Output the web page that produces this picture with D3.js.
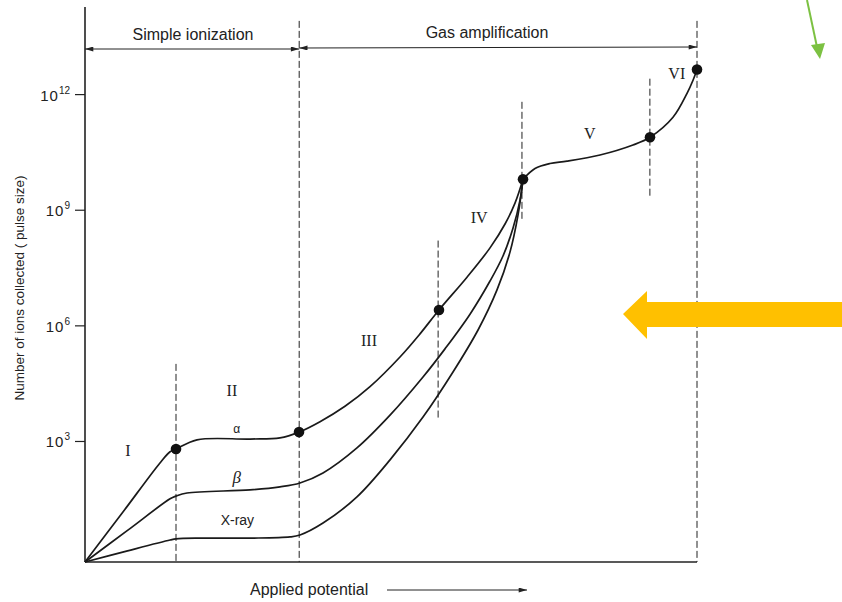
<!DOCTYPE html>
<html>
<head>
<meta charset="utf-8">
<script src="https://cdn.jsdelivr.net/npm/d3@7"></script>
<style>
  body { margin: 0; background: #fff; }
  text { fill: #222; }
</style>
</head>
<body>
<div id="chart"></div>
<script>
// values: [applied potential (0-100), log10 of ions collected]
let alpha = [[0, -0.14], [6.17, 1.15], [12.25, 2.43], [13.9, 2.72], [14.87, 2.79], [18.3, 3.03],
  [26.96, 3.05], [31.86, 3.08], [34.97, 3.23], [38.4, 3.5], [42.48, 3.9], [46.57, 4.41],
  [51.47, 5.18], [54.74, 5.78], [57.84, 6.40], [62.42, 7.25], [66.18, 8.01], [68.63, 8.63],
  [70.26, 9.17], [71.57, 9.79]]
let beta = [[0, -0.14], [6.95, 0.68], [13.9, 1.50], [14.87, 1.57], [16.67, 1.65], [26.96, 1.73],
  [31.86, 1.81], [35.13, 1.91], [38.89, 2.17], [44.44, 2.82], [49.84, 3.67], [55.23, 4.66],
  [58.82, 5.39], [62.91, 6.29], [66.18, 7.15], [68.3, 7.8], [69.93, 8.52], [71.08, 9.25],
  [71.57, 9.79]]
let xray = [[0, -0.14], [6.95, 0.15], [13.9, 0.43], [14.87, 0.46], [18.8, 0.48], [26.96, 0.48],
  [33.5, 0.51], [35.13, 0.56], [38.89, 0.87], [44.44, 1.55], [49.84, 2.51], [55.23, 3.62],
  [60.13, 4.79], [64.22, 5.88], [67.32, 6.92], [69.44, 7.9], [70.75, 8.86], [71.57, 9.79]]
// common part once all curves have merged (regions V and VI)
let merged = [[71.57, 9.79], [73.53, 10.07], [75.98, 10.2], [78.76, 10.26], [84.15, 10.42],
  [89.54, 10.68], [92.32, 10.88], [96.08, 11.40], [98.37, 12.02], [99.35, 12.36], [100, 12.64]]

let dots = [[14.87, 2.79], [34.97, 3.23], [57.84, 6.40], [71.57, 9.79], [92.32, 10.88], [100, 12.64]]

// region boundaries: [potential, log10 top, log10 bottom]
let boundaries = [[14.87, 5.0, -0.14], [35.0, 13.9, -0.14], [57.7, 8.2, 3.55],
  [71.4, 11.8, 8.7], [92.3, 12.4, 9.32], [100, 13.9, -0.14]]

let regions = [['I', 7.0, 2.75], ['II', 24.0, 4.3], ['III', 46.4, 5.62], ['IV', 64.4, 8.8],
  ['V', 82.5, 10.98], ['VI', 96.7, 12.55]]

let curveLabels = [['α', 24.8, 3.2, 'alpha'], ['β', 24.8, 1.92, 'beta'], ['X-ray', 24.9, 0.83, 'xray']]

let tickExponents = [3, 6, 9, 12]

let margin = { top: 7, left: 85, right: 145, bottom: 40 }
let width = 842 - margin.left - margin.right
let height = 602 - margin.top - margin.bottom

let svg = d3
  .select('#chart')
  .append('svg')
  .attr('width', 842)
  .attr('height', 602)

let g = svg.append('g')
  .attr('transform', 'translate(' + margin.left + ',' + margin.top + ')')

let x = d3.scaleLinear().domain([0, 100]).range([0, width])
let y = d3.scaleLog().domain([Math.pow(10, -0.14), Math.pow(10, 14.26)]).range([height, 0])

let px = d => x(d[0])
let py = d => y(Math.pow(10, d[1]))

// dashed region boundaries
g.selectAll('.boundary')
  .data(boundaries)
  .enter()
  .append('line')
  .attr('class', 'boundary')
  .attr('x1', d => x(d[0]))
  .attr('x2', d => x(d[0]))
  .attr('y1', d => y(Math.pow(10, d[1])))
  .attr('y2', d => y(Math.pow(10, d[2])))
  .attr('stroke', '#222')
  .attr('stroke-width', 1)
  .attr('stroke-dasharray', '7,3')

// axes
let yAxis = d3.axisLeft(y)
  .tickValues(tickExponents.map(e => Math.pow(10, e)))
  .tickSize(10)
  .tickFormat('')

let yg = g.append('g').call(yAxis)
yg.select('.domain').remove()
yg.selectAll('.tick line').attr('stroke', '#222').attr('stroke-width', 1.2)
yg.selectAll('.tick')
  .append('text')
  .attr('x', -15)
  .attr('y', 6)
  .attr('text-anchor', 'end')
  .style('font-family', 'Liberation Sans, sans-serif')
  .style('font-size', '15px')
  .style('letter-spacing', '1px')
  .attr('fill', '#222')
  .text('10')
  .append('tspan')
  .attr('dy', -7)
  .style('font-size', '10px')
  .style('letter-spacing', '0px')
  .text((d, i) => tickExponents[i])

g.append('line')
  .attr('x1', 0).attr('x2', 0)
  .attr('y1', 0).attr('y2', height)
  .attr('stroke', '#222').attr('stroke-width', 1.6)

g.append('line')
  .attr('x1', 0).attr('x2', x(100))
  .attr('y1', height).attr('y2', height)
  .attr('stroke', '#222').attr('stroke-width', 1.6)

// curves
let line = d3.line().x(px).y(py).curve(d3.curveCatmullRom.alpha(0.5))

let curves = [alpha, beta, xray, merged]

g.selectAll('.curve')
  .data(curves)
  .enter()
  .append('path')
  .attr('class', 'curve')
  .attr('d', line)
  .attr('fill', 'none')
  .attr('stroke', '#1a1a1a')
  .attr('stroke-width', 1.7)

g.selectAll('.dot')
  .data(dots)
  .enter()
  .append('circle')
  .attr('class', 'dot')
  .attr('cx', px)
  .attr('cy', py)
  .attr('r', 5.3)
  .attr('fill', '#111')

// region numerals
g.selectAll('.region')
  .data(regions)
  .enter()
  .append('text')
  .attr('class', 'region')
  .attr('x', d => x(d[1]))
  .attr('y', d => y(Math.pow(10, d[2])))
  .attr('text-anchor', 'middle')
  .attr('dy', '0.35em')
  .style('font-family', 'Liberation Serif, serif')
  .style('font-size', '16px')
  .text(d => d[0])

g.selectAll('.clabel')
  .data(curveLabels)
  .enter()
  .append('text')
  .attr('class', 'clabel')
  .attr('x', d => x(d[1]))
  .attr('y', d => y(Math.pow(10, d[2])))
  .attr('text-anchor', 'middle')
  .style('font-family', d => d[3] === 'beta' ? 'Liberation Serif, serif' : 'Liberation Sans, sans-serif')
  .style('font-style', d => d[3] === 'beta' ? 'italic' : 'normal')
  .style('font-size', d => d[3] === 'alpha' ? '12px' : (d[3] === 'beta' ? '17px' : '14px'))
  .text(d => d[0])

// top ranges with arrows
let defs = svg.append('defs')
defs.append('marker')
  .attr('id', 'head')
  .attr('viewBox', '0 0 10 6')
  .attr('refX', 10).attr('refY', 3)
  .attr('markerWidth', 14).attr('markerHeight', 5)
  .attr('markerUnits', 'userSpaceOnUse')
  .attr('orient', 'auto-start-reverse')
  .append('path')
  .attr('d', 'M0,0L10,3L0,6Z')
  .attr('fill', '#222')

let ranges = [['Simple ionization', 0, 35.0, 49, 40, 193], ['Gas amplification', 35.0, 100, 48, 38, 487]]

ranges.forEach(r => {
  g.append('line')
    .attr('x1', x(r[1])).attr('x2', x(r[2]))
    .attr('y1', r[3] - margin.top).attr('y2', r[3] - margin.top - (r[1] > 0 ? 1 : 0))
    .attr('stroke', '#222').attr('stroke-width', 1)
    .attr('marker-start', 'url(#head)')
    .attr('marker-end', 'url(#head)')
  svg.append('text')
    .attr('x', r[5])
    .attr('y', r[4])
    .attr('text-anchor', 'middle')
    .style('font-family', 'Liberation Sans, sans-serif')
    .style('font-size', '16px')
    .text(r[0])
})

// axis titles
svg.append('text')
  .attr('transform', 'translate(24,288) rotate(-90)')
  .attr('text-anchor', 'middle')
  .style('font-family', 'Liberation Sans, sans-serif')
  .style('font-size', '13.5px')
  .text('Number of ions collected ( pulse size)')

svg.append('text')
  .attr('x', 250)
  .attr('y', 595)
  .style('font-family', 'Liberation Sans, sans-serif')
  .style('font-size', '16px')
  .text('Applied potential')

svg.append('line')
  .attr('x1', 387).attr('x2', 527)
  .attr('y1', 590).attr('y2', 590)
  .attr('stroke', '#222').attr('stroke-width', 1)
  .attr('marker-end', 'url(#head)')

// annotation arrows laid over the figure
svg.append('path')
  .attr('d', 'M623,314L647,291L647,302L842,302L842,327L647,327L647,339Z')
  .attr('fill', '#ffc000')

svg.append('line')
  .attr('x1', 807).attr('x2', 817)
  .attr('y1', 0).attr('y2', 47)
  .attr('stroke', '#7cc142').attr('stroke-width', 2)
svg.append('path')
  .attr('d', 'M820,59L811,45L825,43Z')
  .attr('fill', '#7cc142')
</script>
</body>
</html>
